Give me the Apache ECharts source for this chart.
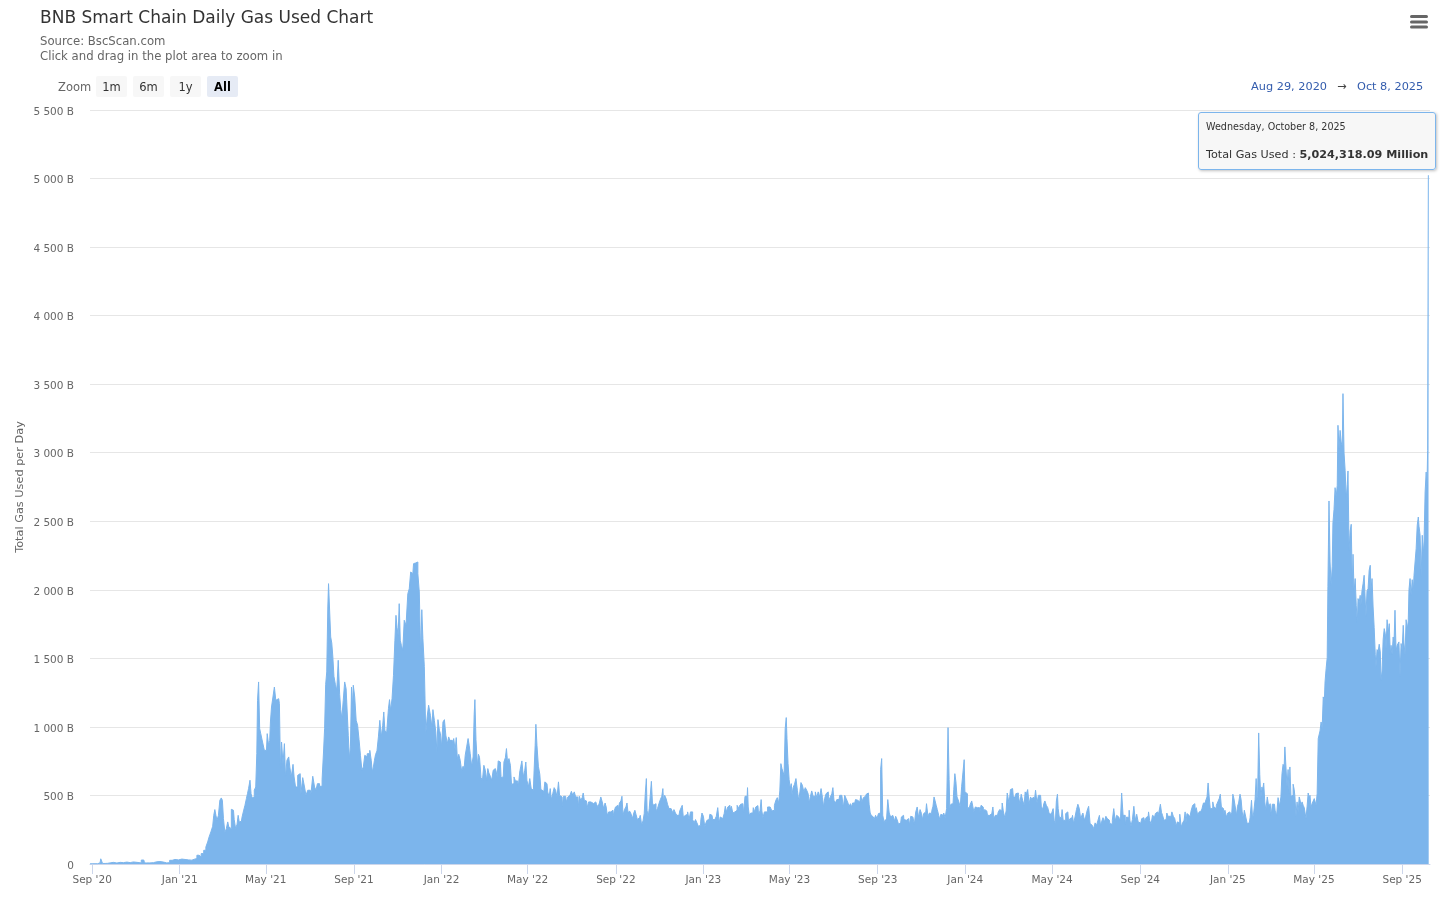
<!DOCTYPE html>
<html>
<head>
<meta charset="utf-8">
<title>BNB Smart Chain Daily Gas Used Chart</title>
<script src="https://cdn.jsdelivr.net/npm/echarts@6/dist/echarts.min.js"></script>
<style>
  html, body { margin: 0; padding: 0; background: #ffffff; }
  #chart { width: 1440px; height: 900px; }
</style>
</head>
<body>
<div id="chart"></div>
<script>
// ---------------- DATA ----------------
const chartTitle = 'BNB Smart Chain Daily Gas Used Chart';
const subtitleLines = ['Source: BscScan.com', 'Click and drag in the plot area to zoom in'];
const zoomButtons = ['1m', '6m', '1y', 'All'];
const rangeFrom = 'Aug 29, 2020';
const rangeTo = 'Oct 8, 2025';
const yAxisTitle = 'Total Gas Used per Day';
const seriesName = 'Total Gas Used';
const startDateUTC = [2020, 7, 29];           // Aug 29, 2020 (day offset 0)
const xTickDates = [
  [2020, 8, 1], [2021, 0, 1], [2021, 4, 1], [2021, 8, 1], [2022, 0, 1], [2022, 4, 1],
  [2022, 8, 1], [2023, 0, 1], [2023, 4, 1], [2023, 8, 1], [2024, 0, 1], [2024, 4, 1],
  [2024, 8, 1], [2025, 0, 1], [2025, 4, 1], [2025, 8, 1]
];

// day offset from Aug 29, 2020
const dayOffsets = [
0,3,7,14,16,19,23,26,30,35,40,44,49,54,58,63,68,75,77,81,86,91,95,100,105,109,113,116,121,126,130,135,140,144,147,151,153,157,160,163,165,167,170,172,173,175,176,178,180,182,184,185,187,189,191,193,194,196,198,200,202,204,206,207,209,211,213,215,217,219,220,222,224,225,227,228,230,232,233,234,236,
237,239,242,244,246,248,250,251,252,254,256,258,260,263,265,266,268,270,272,273,276,278,279,282,284,285,288,291,293,295,298,300,302,305,307,309,312,314,316,318,322,325,326,328,329,331,332,333,335,336,338,339,341,343,345,347,349,350,352,354,356,358,359,361,362,364,365,366,368,370,372,374,376,378,380,382,384,386,387,389,391,393,394,396,397,399,401,403,405,407,409,410,412,415,417,418,420,422,424,426,427,429,430,432,433,435,437,439,442,444,446,448,450,452,454,456,458,460,462,463,465,467,469,471,473,
476,477,479,481,483,484,486,488,489,491,493,495,497,499,501,502,504,506,508,510,511,513,515,517,519,521,522,524,526,528,529,531,533,535,536,537,539,541,542,544,546,548,550,552,554,555,557,559,561,563,565,567,568,570,572,574,576,578,580,581,583,585,587,588,590,592,594,596,598,600,601,603,605,607,608,610,612,614,616,618,620,621,622,624,626,628,629,631,633,635,637,639,641,642,644,646,648,650,652,654,655,657,659,661,663,665,667,668,670,672,674,676,678,680,681,683,685,687,688,690,692,694,696,698,700,701,703,705,707,709,711,
713,715,717,719,720,722,724,726,728,730,732,733,735,737,739,741,742,744,746,748,749,751,753,755,757,759,760,762,764,766,768,770,772,773,775,776,777,779,780,782,783,785,786,788,790,792,794,796,798,799,800,802,804,806,808,810,812,813,815,817,819,821,823,825,826,828,830,832,834,836,838,839,841,843,845,847,849,851,852,854,856,858,859,861,863,865,867,869,871,872,874,876,878,879,881,883,885,886,888,890,891,893,895,897,899,901,903,904,906,908,910,912,914,916,917,918,920,922,924,925,927,929,931,933,935,936,937,939,941,
948,950,951,953,955,957,959,961,962,964,965,967,968,970,971,972,974,975,977,978,979,981,983,985,987,989,990,992,994,996,998,1000,1002,1003,1005,1007,1009,1010,1012,1014,1016,1018,1020,1022,1023,1025,1027,1029,1031,1033,1035,1036,1038,1040,1042,1044,1046,1048,1049,1051,1053,1055,1057,1059,1061,1062,1064,1066,1068,1070,1072,1074,1075,1077,1079,1081,1083,1085,1087,1088,1090,1092,1094,1096,1098,1100,1101,1103,1104,1106,1108,1109,1111,1113,1115,1117,1119,1121,1122,1124,1126,1128,1130,1132,1134,1135,1137,1139,1141,1143,1145,1147,1148,1150,1152,1154,1156,1158,1160,1161,1163,1165,1167,1169,1171,1173,1174,1176,1177,1179,1180,1182,1184,
1185,1187,1189,1191,1193,1195,1197,1198,1199,1201,1203,1205,1206,1208,1209,1211,1212,1214,1216,1218,1219,1220,1222,1224,1226,1228,1230,1231,1233,1235,1237,1239,1241,1243,1245,1246,1248,1250,1252,1254,1256,1258,1259,1261,1263,1265,1267,1269,1271,1272,1274,1276,1278,1279,1280,1282,1284,1286,1288,1290,1291,1293,1295,1297,1299,1301,1303,1304,1306,1308,1310,1312,1314,1316,1317,1319,1321,1323,1325,1327,1329,1330,1332,1334,1336,1338,1340,1342,1343,1345,1346,1348,1349,1350,1352,1354,1356,1357,1359,1361,1363,1365,1367,1369,1370,1372,1374,1376,1378,1380,1382,1383,1385,1387,1389,1391,1393,1395,1396,1398,1400,1402,1404,1406,1408,1409,1411,1413,1415,1417,1419,1421,
1422,1424,1426,1428,1430,1432,1434,1436,1437,1439,1441,1442,1444,1446,1448,1449,1450,1452,1454,1456,1458,1460,1462,1463,1465,1467,1469,1471,1473,1475,1476,1478,1480,1482,1484,1486,1488,1489,1491,1493,1494,1496,1498,1500,1502,1503,1505,1507,1509,1511,1513,1515,1516,1518,1520,1522,1524,1526,1527,1528,1530,1532,1534,1536,1538,1540,1541,1543,1545,1547,1549,1551,1553,1554,1556,1558,1559,1561,1562,1564,1566,1567,1569,1571,1573,1575,1576,1578,1580,1581,1583,1585,1587,1589,1591,1592,1594,1595,1597,1599,1600,1602,1604,1605,1607,1608,1610,1612,1614,1616,1618,1620,1621,1623,1625,1626,1627,1628,1630,1631,1633,1634,1635,1637,1638,1640,1642,1644,1646,1647,1649,1651,1653,1655,1657,1659,
1661,1662,1664,1665,1666,1668,1669,1671,1672,1673,1675,1676,1678,1679,1680,1682,1683,1685,1686,1687,1689,1690,1692,1693,1694,1696,1697,1699,1700,1701,1703,1704,1706,1707,1708,1710,1711,1713,1714,1715,1717,1718,1720,1721,1722,1724,1725,1726,1728,1729,1731,1732,1733,1735,1736,1738,1739,1740,1742,1743,1745,1746,1747,1749,1750,1752,1753,1754,1756,1757,1759,1760,1761,1763,1764,1766,1767,1768,1770,1771,1772,1774,1775,1777,1778,1779,1781,1782,1784,1785,1786,1788,1789,1791,1792,1793,1795,1796,1798,1799,1800,1802,1803,1805,1806,1807,1809,1810,1812,1813,1814,1816,1817,1818,1820,1821,1823,1824,1825,1827,1828,1830,1831,1832,1834,1835,1837,1838,1839,1841,1842,1844,1845,1846,1848,1849,1851,1852,1853,1855,1856,1858,1859,1860,1862,1863,1864,1865,1866
];

// total gas used per day, in billions
const gasUsedB = [
1,2,2,8,38,4,5,8,12,7,12,10,14,10,15,12,8,29,8,8,10,16,18,14,8,10,27,33,30,36,33,30,28,35,40,64,52,76,100,124,161,197,234,275,355,397,355,319,355,465,482,465,331,229,258,307,270,258,399,392,324,258,290,355,307,311,343,387,428,477,513,550,611,513,482,489,538,562,805,1194,1328,
988,951,890,829,829,951,866,902,1036,1145,1218,1291,1194,1206,1170,696,890,732,878,635,757,781,708,635,727,635,562,647,659,513,630,562,501,538,538,513,640,562,538,586,567,616,817,988,1311,1401,1875,2045,2050,1656,1612,1510,1369,1311,1267,1486,1238,1126,1060,1194,1328,1279,1109,939,769,854,1291,1121,1304,1218,1048,1012,907,793,684,708,793,781,805,805,829,757,671,708,757,798,825,927,1048,927,1012,1109,975,956,1133,1199,1121,1206,1376,1632,1814,1724,1668,1899,1632,1595,1559,1778,1741,1972,2008,2130,2118,2191,2196,2203,2118,1984,1510,1855,1644,1442,951,1077,1158,
1085,1000,1126,1048,963,817,1053,975,951,854,1036,1053,939,878,927,902,902,878,915,829,922,769,800,757,679,713,696,793,854,915,866,805,713,781,1092,1199,907,720,800,776,630,611,720,684,611,696,664,640,611,684,696,679,635,752,744,630,635,744,776,842,744,769,720,582,586,635,606,606,567,671,713,752,635,684,744,611,562,623,550,538,679,866,1019,866,713,654,543,533,494,599,586,526,489,550,470,513,557,538,489,599,501,489,421,494,494,453,489,501,513,530,501,526,489,489,409,494,465,484,518,465,460,411,453,453,453,441,436,453,436,416,445,
489,453,404,445,416,355,380,380,392,348,392,416,428,387,445,460,494,358,397,416,445,372,387,368,331,372,392,363,324,338,355,282,319,368,513,623,392,343,404,404,603,445,428,440,387,404,440,470,494,550,445,501,477,436,404,404,397,372,397,372,355,355,387,411,428,343,355,363,380,324,380,380,324,300,324,300,275,282,324,372,348,270,300,319,324,363,355,324,324,338,348,411,300,343,331,338,368,421,380,416,428,397,421,372,380,392,428,404,421,436,440,372,494,494,557,416,355,372,372,411,380,416,426,355,392,470,387,338,380,
416,421,387,392,428,465,484,445,533,732,696,671,647,987,1068,915,732,616,550,586,501,557,582,623,538,460,526,594,574,526,557,538,513,445,489,533,494,494,526,484,526,489,550,484,416,477,513,526,465,489,513,557,465,445,470,470,501,501,489,411,501,477,453,421,440,416,445,445,470,465,453,460,501,453,484,494,509,518,436,372,355,343,324,355,331,368,372,688,769,355,300,324,300,470,372,343,355,368,314,348,324,290,300,343,355,324,319,319,331,282,348,343,343,290,380,416,338,397,368,324,368,380,440,348,372,368,392,421,489,460,428,397,355,
324,363,355,372,338,404,995,616,404,436,440,543,659,599,489,470,445,416,567,679,761,526,513,404,416,436,460,421,380,416,411,411,368,428,416,380,397,387,355,355,368,380,416,331,355,355,380,397,387,445,387,338,387,518,489,440,543,550,489,489,513,518,501,440,509,465,428,526,509,543,440,489,470,489,470,538,445,501,501,421,397,440,460,428,411,368,363,380,404,319,295,460,509,404,343,338,397,319,319,368,380,307,331,338,355,295,343,397,436,404,324,355,372,319,348,392,421,295,282,290,258,300,282,319,355,282,307,338,307,348,331,319,
295,290,319,404,314,355,343,319,343,518,355,355,290,343,338,392,319,275,324,421,319,363,307,300,282,331,338,307,338,348,380,319,290,355,343,368,380,355,380,436,377,355,319,324,372,348,348,324,380,348,331,275,307,300,363,270,300,319,380,295,368,355,338,392,428,440,392,411,355,380,387,404,445,445,460,489,591,489,404,404,453,416,404,428,453,477,509,416,404,368,392,343,372,380,355,372,509,477,428,355,421,445,509,470,380,331,392,343,295,300,338,465,331,372,470,623,477,494,956,654,477,562,538,591,453,392,489,416,440,355,436,436,387,355,484,421,
489,659,727,708,854,708,567,689,514,708,494,501,582,543,494,348,453,380,489,470,428,453,428,411,404,331,421,518,477,501,411,441,453,477,465,428,514,915,915,971,1036,988,1219,1182,1328,1425,1505,2026,2648,2203,2033,2171,2488,2585,2745,2677,2762,3200,3030,3163,3078,3047,3431,2998,2872,2665,2770,2867,2288,2429,2478,2026,2259,1984,2082,1887,1758,1936,1904,1960,1887,1992,2045,2106,2099,1807,1992,2009,2142,2179,1992,2082,1875,1724,1530,1437,1564,1547,1603,1547,1340,1408,1637,1717,1680,1571,1782,1680,1753,1530,1595,1530,1656,1583,1851,1554,1595,1588,1620,1369,1608,1559,1741,1612,1530,1782,1710,1773,2001,2082,1960,2074,1984,2106,2113,2300,2471,2531,2463,2398,2094,2398,2264,2349,2714,2859,2726,3017,5024.31809
];

// ---------------- BUILD ----------------
const DAY = 86400000;
const START = Date.UTC(startDateUTC[0], startDateUTC[1], startDateUTC[2]);
const seriesData = dayOffsets.map((d, i) => [START + d * DAY, gasUsedB[i]]);
const tickValues = xTickDates.map(d => Date.UTC(d[0], d[1], d[2]));
const MONTHS = ['Jan','Feb','Mar','Apr','May','Jun','Jul','Aug','Sep','Oct','Nov','Dec'];
const MONTHS_LONG = ['January','February','March','April','May','June','July','August','September','October','November','December'];
const WEEKDAYS = ['Sunday','Monday','Tuesday','Wednesday','Thursday','Friday','Saturday'];
const FONT = '"DejaVu Sans", Verdana, sans-serif';

if (dayOffsets.length !== gasUsedB.length) {
  setTimeout(function () { throw new Error('length mismatch ' + dayOffsets.length + ' vs ' + gasUsedB.length); }, 0);
}

function fmtY(v) {
  if (v === 0) return '0';
  return String(v).replace(/\B(?=(\d{3})+(?!\d))/g, ' ') + ' B';
}
function fmtMillion(b) {
  const m = (b * 1000).toFixed(2);
  const parts = m.split('.');
  return parts[0].replace(/\B(?=(\d{3})+(?!\d))/g, ',') + '.' + parts[1];
}

const chart = echarts.init(document.getElementById('chart'), null, { renderer: 'canvas' });

const graphics = [];
graphics.push({ type: 'text', style: { text: chartTitle, x: 40, y: 18.5, font: '17px ' + FONT, fill: '#333333', verticalAlign: 'middle' } });
subtitleLines.forEach((t, i) => {
  graphics.push({ type: 'text', style: { text: t, x: 40, y: 41.5 + i * 15, font: '11.7px ' + FONT, fill: '#666666', verticalAlign: 'middle' } });
});
graphics.push({ type: 'text', style: { text: 'Zoom', x: 58, y: 88, font: '11.5px ' + FONT, fill: '#666666', verticalAlign: 'middle' } });
zoomButtons.forEach((b, i) => {
  const x = 96 + i * 37;
  const sel = b === 'All';
  graphics.push({ type: 'rect', shape: { x: x, y: 76, width: 31, height: 21, r: 2 }, style: { fill: sel ? '#e6ebf5' : '#f7f7f7' } });
  graphics.push({ type: 'text', style: { text: b, x: x + 15.5, y: 88, font: (sel ? 'bold ' : '') + '11.5px ' + FONT, fill: sel ? '#000000' : '#333333', align: 'center', verticalAlign: 'middle' } });
});
graphics.push({ type: 'text', style: { text: rangeFrom, x: 1327, y: 87.5, font: '11.3px ' + FONT, fill: '#335cad', align: 'right', verticalAlign: 'middle' } });
graphics.push({ type: 'text', style: { text: '\u2192', x: 1342, y: 87.5, font: '11.3px ' + FONT, fill: '#444444', align: 'center', verticalAlign: 'middle' } });
graphics.push({ type: 'text', style: { text: rangeTo, x: 1357, y: 87.5, font: '11.3px ' + FONT, fill: '#335cad', align: 'left', verticalAlign: 'middle' } });
[15, 20.5, 25.5].forEach(y => {
  graphics.push({ type: 'rect', shape: { x: 1410, y: y, width: 18, height: 3, r: 1.5 }, style: { fill: '#666666' } });
});

const lastIdx = seriesData.length - 1;

chart.setOption({
  animation: false,
  backgroundColor: '#ffffff',
  textStyle: { fontFamily: FONT },
  grid: { left: 90, right: 10, top: 110, bottom: 36, containLabel: false },
  graphic: graphics,
  tooltip: {
    trigger: 'axis',
    axisPointer: { type: 'none' },
    alwaysShowContent: true,
    transitionDuration: 0,
    showDelay: 0,
    hideDelay: 0,
    padding: 0,
    backgroundColor: 'rgba(247,247,247,0.95)',
    borderColor: '#7cb5ec',
    borderWidth: 1,
    borderRadius: 3,
    extraCssText: 'box-shadow: 1px 1px 3px rgba(0,0,0,0.25); white-space: nowrap;',
    position: function () { return [1198, 112]; },
    formatter: function (params) {
      const p = Array.isArray(params) ? params[0] : params;
      const d = new Date(p.value[0]);
      const head = WEEKDAYS[d.getUTCDay()] + ', ' + MONTHS_LONG[d.getUTCMonth()] + ' ' + d.getUTCDate() + ', ' + d.getUTCFullYear();
      return '<div style="padding:5px 7px 6px 7px;font-family:' + FONT.replace(/"/g, "'") + ';color:#333">' +
        '<div style="font-size:9.6px;line-height:17px">' + head + '</div>' +
        '<div style="height:11px"></div>' +
        '<div style="font-size:11.2px;line-height:17px">' + p.seriesName + ' : <b>' + fmtMillion(p.value[1]) + ' Million</b></div>' +
        '</div>';
    }
  },
  xAxis: {
    type: 'value',
    min: START,
    max: START + 1867.8 * DAY,
    axisLine: { show: true, onZero: false, lineStyle: { color: '#ccd6eb', width: 1 } },
    axisTick: { show: true, length: 10, lineStyle: { color: '#ccd6eb' }, customValues: tickValues },
    axisLabel: {
      customValues: tickValues,
      margin: 11,
      color: '#666666',
      fontSize: 10.5,
      fontFamily: FONT,
      formatter: function (v) {
        const d = new Date(v);
        return MONTHS[d.getUTCMonth()] + " '" + String(d.getUTCFullYear()).slice(2);
      }
    },
    splitLine: { show: false }
  },
  yAxis: {
    type: 'value',
    min: 0,
    max: 5500,
    interval: 500,
    name: yAxisTitle,
    nameLocation: 'middle',
    nameGap: 64,
    nameMoveOverlap: false,
    nameRotate: 90,
    nameTextStyle: { color: '#666666', fontSize: 11.3, fontFamily: FONT },
    axisLine: { show: false },
    axisTick: { show: false },
    axisLabel: { color: '#666666', fontSize: 10.5, fontFamily: FONT, margin: 16, verticalAlign: 'top', lineHeight: 4, formatter: fmtY },
    splitLine: { show: true, lineStyle: { color: '#e6e6e6', width: 1 } }
  },
  series: [{
    name: seriesName,
    type: 'line',
    step: 'middle',
    data: seriesData,
    showSymbol: false,
    symbol: 'none',
    lineStyle: { color: '#7cb5ec', width: 1 },
    areaStyle: { color: '#7cb5ec', opacity: 1 },
    itemStyle: { color: '#7cb5ec' },
    emphasis: { disabled: true },
    z: 2
  }]
});

chart.dispatchAction({ type: 'showTip', seriesIndex: 0, dataIndex: lastIdx });
</script>
</body>
</html>
